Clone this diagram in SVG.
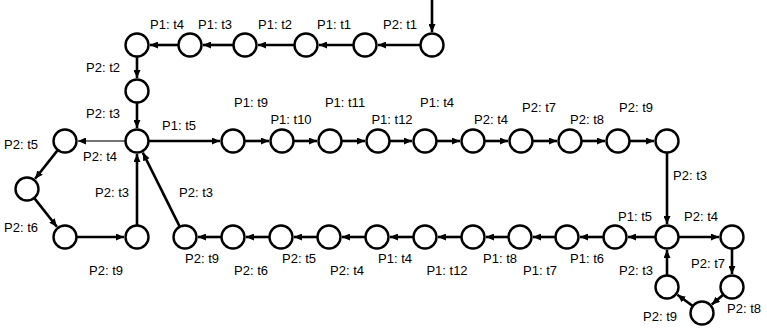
<svg xmlns="http://www.w3.org/2000/svg" width="767" height="336" viewBox="0 0 767 336">
  <style>
    .node { fill: #ffffff; stroke: #000000; stroke-width: 2.4; }
    .edge { stroke: #000000; stroke-width: 2.6; fill: none; marker-end: url(#arrow); }
    .edge.thin { stroke: #444444; stroke-width: 1.6; }
    .lbl { font-family: "Liberation Sans", Arial, sans-serif; font-size: 13px; fill: #000000; text-anchor: middle; }
  </style>
  <defs>
    <marker id="arrow" markerUnits="userSpaceOnUse" markerWidth="9" markerHeight="7" refX="8" refY="3.5" orient="auto">
      <path d="M0,0 L8,3.5 L0,7 z" fill="#000000"/>
    </marker>
  </defs>

  <!-- connectors -->
  <g id="edges">
    <line class="edge" x1="432" y1="0" x2="432" y2="32"/>
    <!-- top row, right to left -->
    <line class="edge" x1="420" y1="45" x2="378" y2="45"/>
    <line class="edge" x1="353" y1="45" x2="319" y2="45"/>
    <line class="edge" x1="294" y1="45" x2="258" y2="45"/>
    <line class="edge" x1="233" y1="45" x2="203" y2="45"/>
    <line class="edge" x1="178" y1="45" x2="150" y2="45"/>
    <!-- down to the hub -->
    <line class="edge" x1="137" y1="57" x2="137" y2="78"/>
    <line class="edge" x1="137" y1="103" x2="137" y2="128"/>
    <!-- left loop -->
    <line class="edge thin" x1="125" y1="141" x2="78" y2="141"/>
    <line class="edge" x1="57.5" y1="150.4" x2="35.1" y2="178.8"/>
    <line class="edge" x1="34.5" y1="198.4" x2="56.9" y2="226.8"/>
    <line class="edge" x1="77" y1="237" x2="124" y2="237"/>
    <line class="edge" x1="137" y1="225" x2="137" y2="154"/>
    <line class="edge" x1="179.6" y1="226.3" x2="142.8" y2="152.6"/>
    <!-- middle row, left to right -->
    <line class="edge" x1="149" y1="141" x2="220" y2="141"/>
    <line class="edge" x1="245" y1="141" x2="269" y2="141"/>
    <line class="edge" x1="294" y1="141" x2="317" y2="141"/>
    <line class="edge" x1="342" y1="141" x2="365" y2="141"/>
    <line class="edge" x1="390" y1="141" x2="412" y2="141"/>
    <line class="edge" x1="437" y1="141" x2="460" y2="141"/>
    <line class="edge" x1="485" y1="141" x2="508" y2="141"/>
    <line class="edge" x1="533" y1="141" x2="557" y2="141"/>
    <line class="edge" x1="582" y1="141" x2="605" y2="141"/>
    <line class="edge" x1="630" y1="141" x2="654" y2="141"/>
    <line class="edge" x1="667" y1="153" x2="667" y2="224"/>
    <!-- bottom row, right to left -->
    <line class="edge" x1="655" y1="237" x2="628" y2="237"/>
    <line class="edge" x1="603" y1="237" x2="580" y2="237"/>
    <line class="edge" x1="555" y1="237" x2="533" y2="237"/>
    <line class="edge" x1="508" y1="237" x2="486" y2="237"/>
    <line class="edge" x1="461" y1="237" x2="438" y2="237"/>
    <line class="edge" x1="413" y1="237" x2="390" y2="237"/>
    <line class="edge" x1="365" y1="237" x2="342" y2="237"/>
    <line class="edge" x1="317" y1="237" x2="294" y2="237"/>
    <line class="edge" x1="269" y1="237" x2="246" y2="237"/>
    <line class="edge" x1="221" y1="237" x2="198" y2="237"/>
    <!-- right loop -->
    <line class="edge" x1="679" y1="237" x2="719" y2="237"/>
    <line class="edge" x1="732" y1="249" x2="732" y2="274"/>
    <line class="edge" x1="722.9" y1="294.9" x2="711.8" y2="304.5"/>
    <line class="edge" x1="692.4" y1="305.8" x2="677.4" y2="294.7"/>
    <line class="edge" x1="667" y1="275" x2="667" y2="250"/>
  </g>

  <!-- states -->
  <g id="t0"><circle class="node" cx="432" cy="45" r="11.5"/></g>
  <g id="t1"><circle class="node" cx="365" cy="45" r="11.5"/></g>
  <g id="t2"><circle class="node" cx="306" cy="45" r="11.5"/></g>
  <g id="t3"><circle class="node" cx="245" cy="45" r="11.5"/></g>
  <g id="t4"><circle class="node" cx="190" cy="45" r="11.5"/></g>
  <g id="t5"><circle class="node" cx="137" cy="45" r="11.5"/></g>
  <g id="n1"><circle class="node" cx="137" cy="91" r="11.5"/></g>
  <g id="hub"><circle class="node" cx="137" cy="141" r="11.5"/></g>
  <g id="l1"><circle class="node" cx="65" cy="141" r="11.5"/></g>
  <g id="l2"><circle class="node" cx="27" cy="189" r="11.5"/></g>
  <g id="l3"><circle class="node" cx="65" cy="237" r="11.5"/></g>
  <g id="l4"><circle class="node" cx="137" cy="237" r="11.5"/></g>
  <g id="m0"><circle class="node" cx="233" cy="141" r="11.5"/></g>
  <g id="m1"><circle class="node" cx="282" cy="141" r="11.5"/></g>
  <g id="m2"><circle class="node" cx="330" cy="141" r="11.5"/></g>
  <g id="m3"><circle class="node" cx="378" cy="141" r="11.5"/></g>
  <g id="m4"><circle class="node" cx="425" cy="141" r="11.5"/></g>
  <g id="m5"><circle class="node" cx="473" cy="141" r="11.5"/></g>
  <g id="m6"><circle class="node" cx="521" cy="141" r="11.5"/></g>
  <g id="m7"><circle class="node" cx="570" cy="141" r="11.5"/></g>
  <g id="m8"><circle class="node" cx="618" cy="141" r="11.5"/></g>
  <g id="m9"><circle class="node" cx="667" cy="141" r="11.5"/></g>
  <g id="hub2"><circle class="node" cx="667" cy="237" r="11.5"/></g>
  <g id="r1"><circle class="node" cx="732" cy="237" r="11.5"/></g>
  <g id="r2"><circle class="node" cx="732" cy="287" r="11.5"/></g>
  <g id="r3"><circle class="node" cx="702" cy="313" r="11.5"/></g>
  <g id="r4"><circle class="node" cx="667" cy="287" r="11.5"/></g>
  <g id="b0"><circle class="node" cx="615" cy="237" r="11.5"/></g>
  <g id="b1"><circle class="node" cx="567" cy="237" r="11.5"/></g>
  <g id="b2"><circle class="node" cx="520" cy="237" r="11.5"/></g>
  <g id="b3"><circle class="node" cx="473" cy="237" r="11.5"/></g>
  <g id="b4"><circle class="node" cx="425" cy="237" r="11.5"/></g>
  <g id="b5"><circle class="node" cx="377" cy="237" r="11.5"/></g>
  <g id="b6"><circle class="node" cx="329" cy="237" r="11.5"/></g>
  <g id="b7"><circle class="node" cx="281" cy="237" r="11.5"/></g>
  <g id="b8"><circle class="node" cx="233" cy="237" r="11.5"/></g>
  <g id="b9"><circle class="node" cx="185" cy="237" r="11.5"/></g>

  <!-- transition labels -->
  <g id="labels">
    <text class="lbl" x="167" y="29">P1: t4</text>
    <text class="lbl" x="215" y="29">P1: t3</text>
    <text class="lbl" x="275" y="29">P1: t2</text>
    <text class="lbl" x="334" y="29">P1: t1</text>
    <text class="lbl" x="400" y="29">P2: t1</text>
    <text class="lbl" x="103" y="72">P2: t2</text>
    <text class="lbl" x="103" y="118">P2: t3</text>
    <text class="lbl" x="179" y="130">P1: t5</text>
    <text class="lbl" x="21" y="149">P2: t5</text>
    <text class="lbl" x="100" y="161">P2: t4</text>
    <text class="lbl" x="112" y="197">P2: t3</text>
    <text class="lbl" x="196" y="197">P2: t3</text>
    <text class="lbl" x="21" y="232">P2: t6</text>
    <text class="lbl" x="106" y="275">P2: t9</text>
    <text class="lbl" x="251" y="107">P1: t9</text>
    <text class="lbl" x="291" y="124">P1: t10</text>
    <text class="lbl" x="345" y="107">P1: t11</text>
    <text class="lbl" x="392" y="124">P1: t12</text>
    <text class="lbl" x="437" y="107">P1: t4</text>
    <text class="lbl" x="491" y="124">P2: t4</text>
    <text class="lbl" x="539" y="112">P2: t7</text>
    <text class="lbl" x="587" y="124">P2: t8</text>
    <text class="lbl" x="636" y="112">P2: t9</text>
    <text class="lbl" x="690" y="180">P2: t3</text>
    <text class="lbl" x="635" y="221">P1: t5</text>
    <text class="lbl" x="701" y="221">P2: t4</text>
    <text class="lbl" x="708" y="268">P2: t7</text>
    <text class="lbl" x="636" y="275">P2: t3</text>
    <text class="lbl" x="660" y="321">P2: t9</text>
    <text class="lbl" x="744" y="313">P2: t8</text>
    <text class="lbl" x="202" y="263">P2: t9</text>
    <text class="lbl" x="251" y="275">P2: t6</text>
    <text class="lbl" x="299" y="263">P2: t5</text>
    <text class="lbl" x="347" y="275">P2: t4</text>
    <text class="lbl" x="395" y="263">P1: t4</text>
    <text class="lbl" x="447" y="275">P1: t12</text>
    <text class="lbl" x="500" y="263">P1: t8</text>
    <text class="lbl" x="540" y="275">P1: t7</text>
    <text class="lbl" x="587" y="263">P1: t6</text>
  </g>
</svg>
